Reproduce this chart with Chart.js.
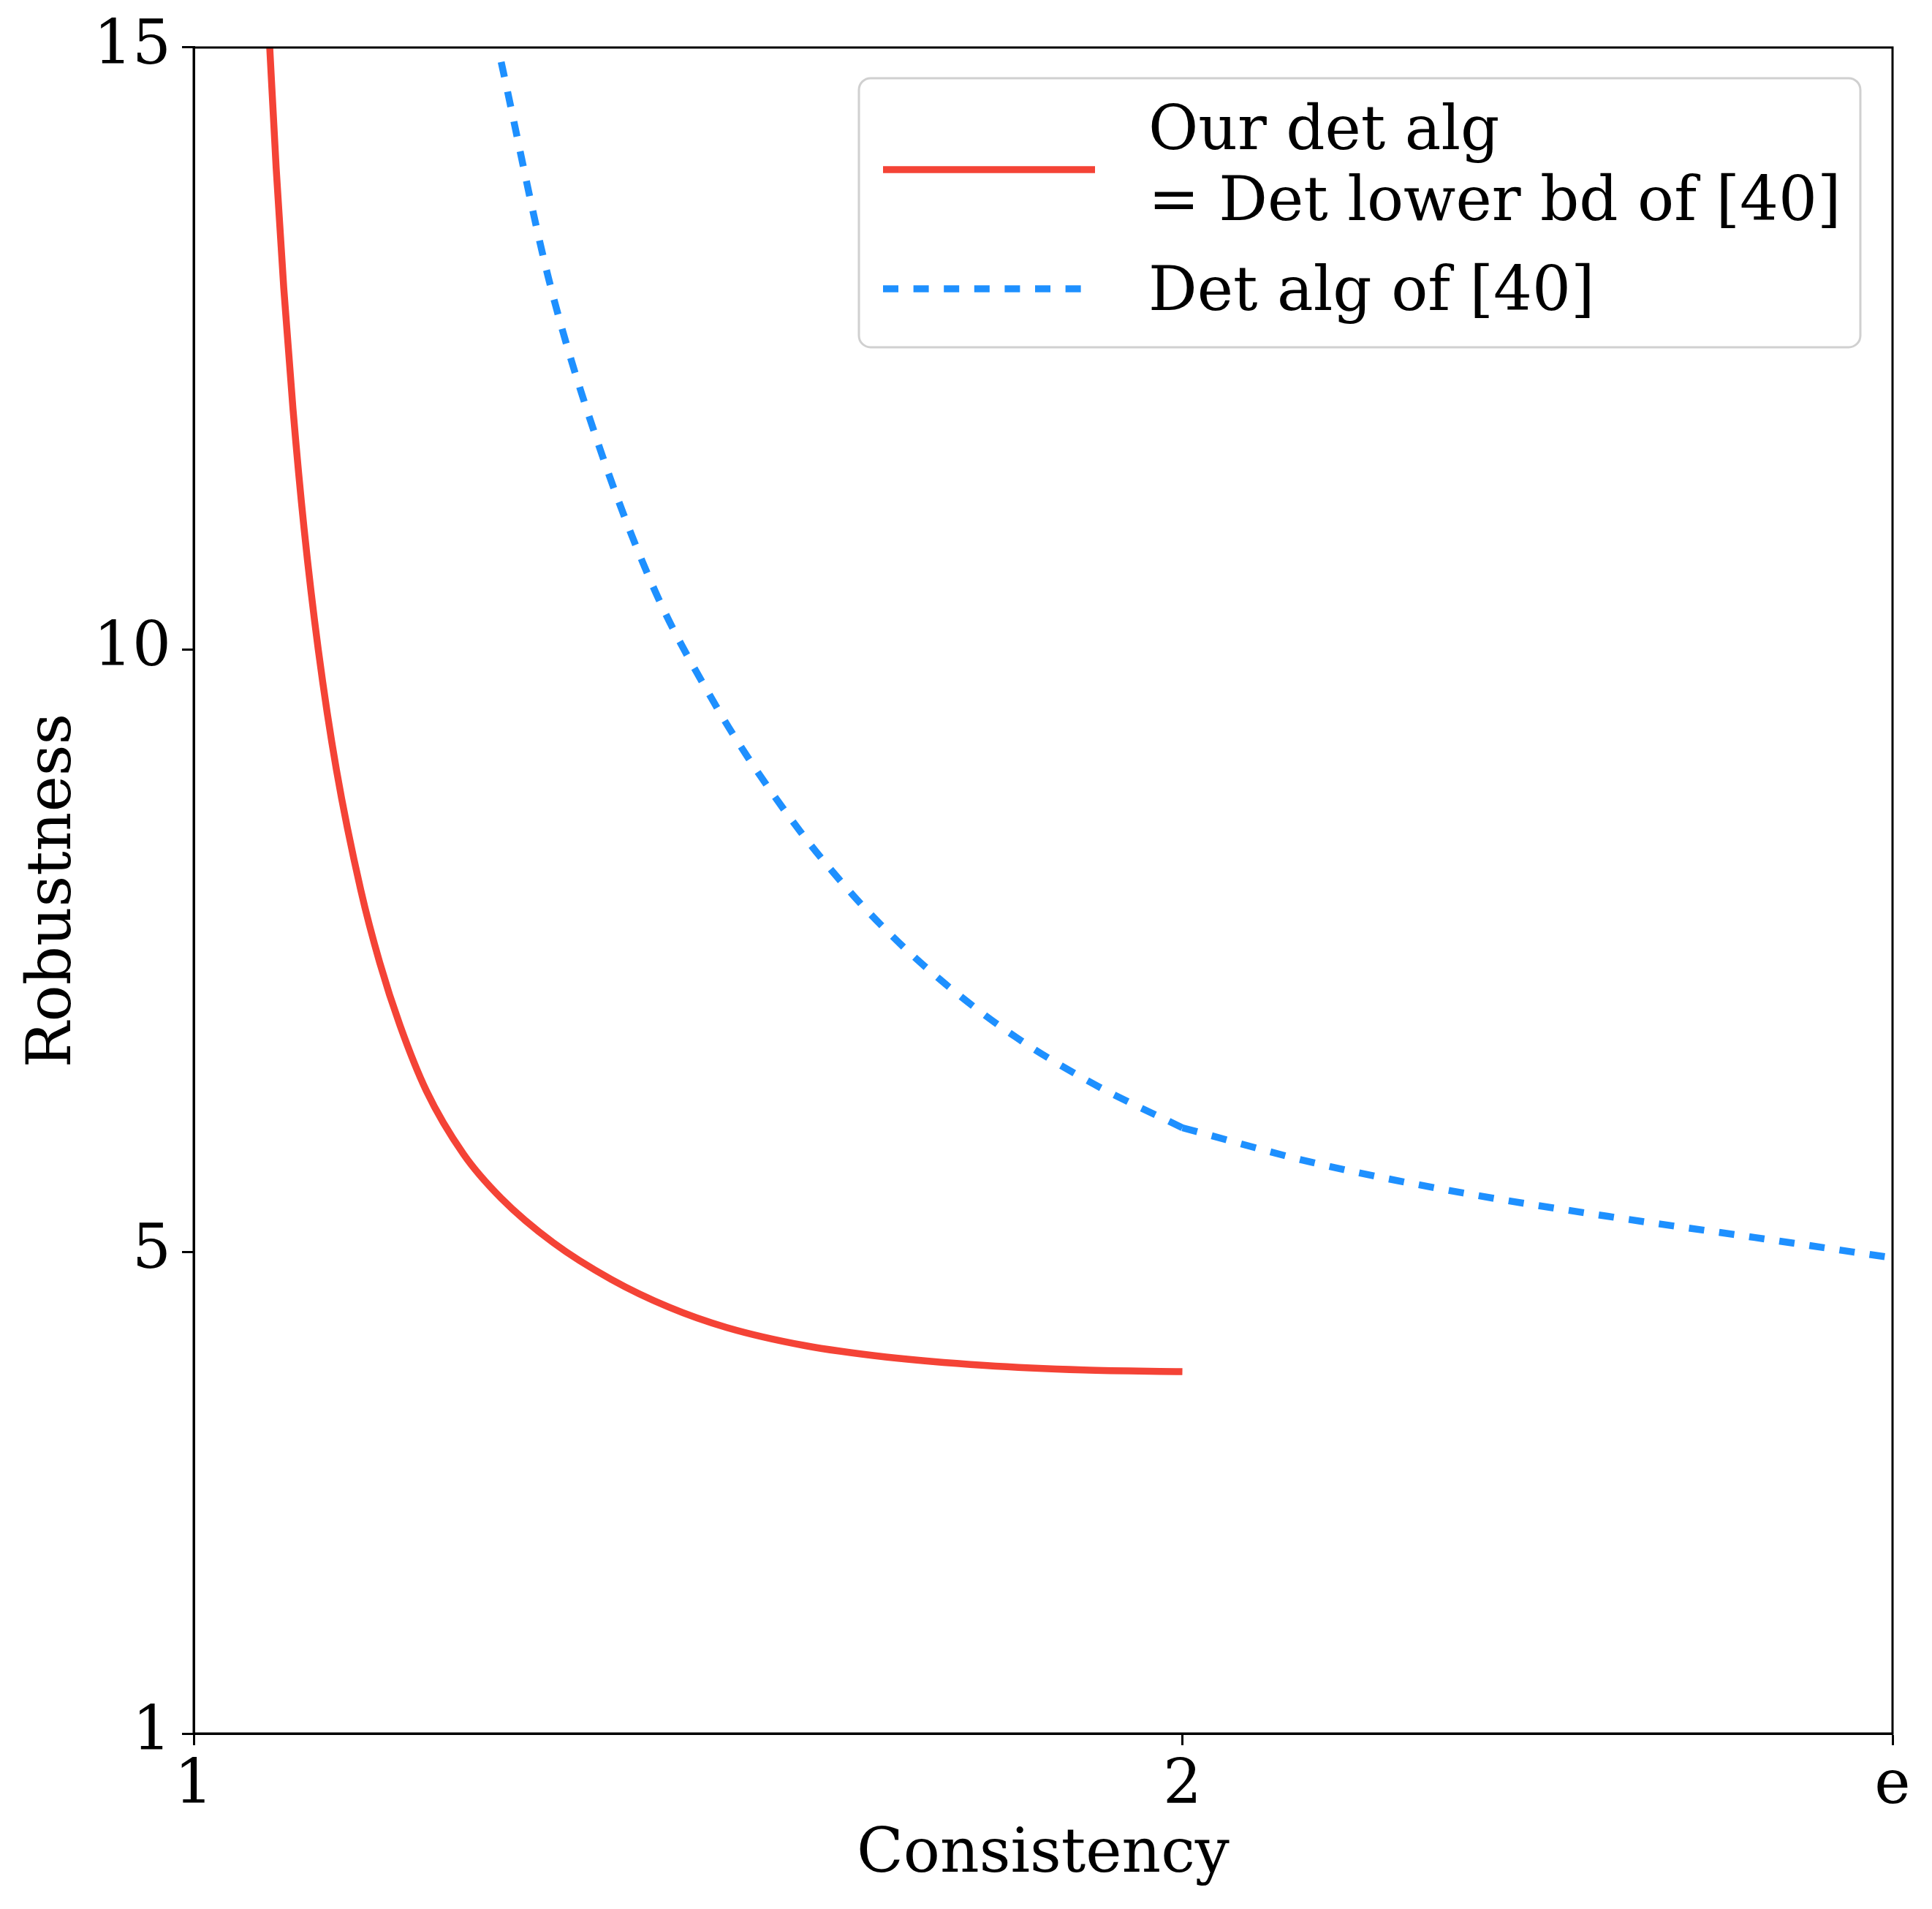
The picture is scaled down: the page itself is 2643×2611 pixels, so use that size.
<!DOCTYPE html>
<html>
<head>
<meta charset="utf-8">
<script src="https://cdn.jsdelivr.net/npm/chart.js@4.4.0/dist/chart.umd.min.js"></script>
<style>
  html, body { margin: 0; padding: 0; background: #fff; }
  #wrap { width: 2643px; height: 2611px; }
</style>
</head>
<body>
<div id="wrap"><canvas id="robustChart" width="2643" height="2611"></canvas></div>
<script>
// values
const oursConsistency = [1.0769, 1.0834, 1.0911, 1.1004, 1.1117, 1.126, 1.1444, 1.1691, 1.1882, 1.2087, 1.2352,
  1.273, 1.311, 1.3638, 1.4223, 1.4808, 1.5392, 1.6176, 1.70, 1.80, 1.90, 2.0];
const oursRobustness  = [15.0, 14.0, 13.0, 12.0, 11.0, 10.0, 9.0, 8.0, 7.4, 6.879, 6.339,
  5.81, 5.445, 5.075, 4.771, 4.54, 4.371, 4.222, 4.127, 4.057, 4.019, 4.005];

// det alg of [40] has a kink at consistency 2, so it is kept in two pieces
const detConsistencyLow = [1.311, 1.359, 1.4075, 1.467, 1.527, 1.561, 1.614, 1.667, 1.713, 1.766, 1.832, 1.911, 2.0];
const detRobustnessLow  = [14.88, 13.08, 11.75, 10.48, 9.55, 9.10, 8.485, 7.96, 7.57, 7.185, 6.78, 6.39, 6.03];
const detConsistencyHigh = [2.0, 2.135, 2.283, 2.43, 2.578, Math.E];
const detRobustnessHigh  = [6.03, 5.735, 5.49, 5.295, 5.12, 4.95];

const xTickValues = [1, 2, Math.E];
const xTickLabels = ['1', '2', 'e'];
const yTickValues = [1, 5, 10, 15];

const legendLabels = [['Our det alg', '= Det lower bd of [40]'], ['Det alg of [40]']];

const RED = '#F44336';
const BLUE = '#1E90FF';
const FONT = { family: '"DejaVu Serif", serif', size: 83.3 };
const LINE_W = 9.5;
const DOTS = [21, 20.6];

const toPoints = (xs, ys) => xs.map((x, i) => ({ x: x, y: ys[i] }));

const frame = {
  id: 'frame',
  afterDatasetsDraw(chart) {
    const { ctx, chartArea: a } = chart;
    ctx.save();
    ctx.strokeStyle = '#000';
    ctx.lineWidth = 3;
    ctx.strokeRect(a.left, a.top, a.right - a.left, a.bottom - a.top);
    ctx.restore();
  }
};

const boxLegend = {
  id: 'boxLegend',
  afterDraw(chart) {
    const ctx = chart.ctx;
    const a = chart.chartArea;
    const right = a.right - 44, top = a.top + 42;
    const w = 1370, h = 368, left = right - w;

    ctx.save();
    ctx.beginPath();
    ctx.roundRect(left, top, w, h, 16);
    ctx.fillStyle = 'rgba(255,255,255,0.8)';
    ctx.fill();
    ctx.lineWidth = 3;
    ctx.strokeStyle = '#d0d0d0';
    ctx.stroke();

    ctx.font = FONT.size + 'px ' + FONT.family;
    ctx.fillStyle = '#000';
    ctx.textBaseline = 'alphabetic';
    ctx.textAlign = 'left';

    const handleX0 = left + 33, handleX1 = left + 323;
    const textX = left + 396;
    const rows = [
      { ds: chart.data.datasets[0], lines: legendLabels[0], baseline: top + 97, lineY: top + 125 },
      { ds: chart.data.datasets[1], lines: legendLabels[1], baseline: top + 317, lineY: top + 288 }
    ];
    rows.forEach(row => {
      ctx.beginPath();
      ctx.setLineDash(row.ds.borderDash || []);
      ctx.lineCap = 'butt';
      ctx.strokeStyle = row.ds.borderColor;
      ctx.lineWidth = row.ds.borderWidth;
      ctx.moveTo(handleX0, row.lineY);
      ctx.lineTo(handleX1, row.lineY);
      ctx.stroke();
      ctx.setLineDash([]);
      row.lines.forEach((t, i) => ctx.fillText(t, textX, row.baseline + i * 97));
    });
    ctx.restore();
  }
};

const lineStyle = (color, dash) => ({
  borderColor: color,
  backgroundColor: color,
  borderWidth: LINE_W,
  borderDash: dash,
  borderCapStyle: 'butt',
  pointRadius: 0,
  pointHoverRadius: 0,
  fill: false,
  clip: 0,
  cubicInterpolationMode: 'monotone'
});

new Chart(document.getElementById('robustChart'), {
  type: 'line',
  data: {
    datasets: [
      Object.assign({ label: legendLabels[0].join(' '), data: toPoints(oursConsistency, oursRobustness) }, lineStyle(RED, [])),
      Object.assign({ label: legendLabels[1][0], data: toPoints(detConsistencyLow, detRobustnessLow) }, lineStyle(BLUE, DOTS)),
      Object.assign({ label: legendLabels[1][0], data: toPoints(detConsistencyHigh, detRobustnessHigh) }, lineStyle(BLUE, DOTS))
    ]
  },
  options: {
    responsive: false,
    devicePixelRatio: 1,
    animation: false,
    events: [],
    layout: { padding: { top: 61, right: 54, left: 0, bottom: 0 } },
    plugins: {
      legend: { display: false },
      tooltip: { enabled: false }
    },
    scales: {
      x: {
        type: 'linear',
        min: 1,
        max: Math.E,
        afterFit(scale) { scale.height = 240; },
        afterBuildTicks(scale) { scale.ticks = xTickValues.map(v => ({ value: v })); },
        ticks: {
          color: '#000',
          font: FONT,
          padding: 7,
          maxRotation: 0,
          autoSkip: false,
          callback: (v, i) => xTickLabels[i]
        },
        grid: { drawOnChartArea: false, drawTicks: true, tickLength: 16, tickWidth: 3, tickColor: '#000' },
        border: { color: '#000', width: 3 },
        title: { display: true, text: 'Consistency', color: '#000', font: FONT, padding: { top: 0, bottom: 23 } }
      },
      y: {
        type: 'linear',
        min: 1,
        max: 15,
        afterFit(scale) { scale.width = 265; },
        afterBuildTicks(scale) { scale.ticks = yTickValues.map(v => ({ value: v })); },
        ticks: { color: '#000', font: FONT, padding: 15, autoSkip: false },
        grid: { drawOnChartArea: false, drawTicks: true, tickLength: 16, tickWidth: 3, tickColor: '#000' },
        border: { color: '#000', width: 3 },
        title: { display: true, text: 'Robustness', color: '#000', font: FONT, padding: { top: 24, bottom: 0 } }
      }
    }
  },
  plugins: [frame, boxLegend]
});
</script>
</body>
</html>
